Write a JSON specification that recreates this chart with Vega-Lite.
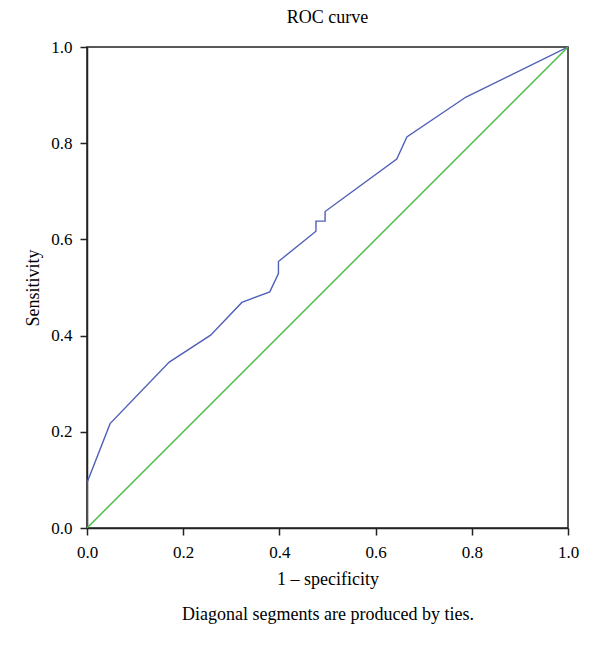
{
  "$schema": "https://vega.github.io/schema/vega-lite/v6.json",
  "width": 481,
  "height": 481,
  "autosize": "none",
  "padding": {"left": 87, "top": 47, "right": 32, "bottom": 121},
  "background": "white",
  "title": {"text": "ROC curve", "font": "Liberation Serif", "fontSize": 18, "fontWeight": "normal", "color": "#000000", "offset": 11},
  "config": {
    "view": {"stroke": "#222222", "strokeWidth": 1.5},
    "axis": {
      "labelFont": "Liberation Serif", "labelFontSize": 17, "labelColor": "#000000",
      "titleFont": "Liberation Serif", "titleFontSize": 18, "titleFontWeight": "normal", "titleColor": "#000000",
      "domainColor": "#222222", "domainWidth": 1.5, "tickColor": "#222222", "tickWidth": 1.5, "tickSize": 7,
      "grid": false, "labelFlush": false
    }
  },
  "data": {"values": [
    {"i": 0, "s": "roc", "fpr": 0.0, "tpr": 0.0},
    {"i": 1, "s": "roc", "fpr": 0.0, "tpr": 0.094},
    {"i": 2, "s": "roc", "fpr": 0.048, "tpr": 0.217},
    {"i": 3, "s": "roc", "fpr": 0.171, "tpr": 0.345},
    {"i": 4, "s": "roc", "fpr": 0.257, "tpr": 0.401},
    {"i": 5, "s": "roc", "fpr": 0.322, "tpr": 0.469},
    {"i": 6, "s": "roc", "fpr": 0.380, "tpr": 0.491},
    {"i": 7, "s": "roc", "fpr": 0.398, "tpr": 0.529},
    {"i": 8, "s": "roc", "fpr": 0.398, "tpr": 0.554},
    {"i": 9, "s": "roc", "fpr": 0.476, "tpr": 0.617},
    {"i": 10, "s": "roc", "fpr": 0.476, "tpr": 0.638},
    {"i": 11, "s": "roc", "fpr": 0.495, "tpr": 0.638},
    {"i": 12, "s": "roc", "fpr": 0.495, "tpr": 0.658},
    {"i": 13, "s": "roc", "fpr": 0.644, "tpr": 0.767},
    {"i": 14, "s": "roc", "fpr": 0.665, "tpr": 0.813},
    {"i": 15, "s": "roc", "fpr": 0.788, "tpr": 0.896},
    {"i": 16, "s": "roc", "fpr": 1.0, "tpr": 1.0},
    {"i": 0, "s": "ref", "fpr": 0.0, "tpr": 0.0},
    {"i": 1, "s": "ref", "fpr": 1.0, "tpr": 1.0}
  ]},
  "mark": {"type": "line", "strokeWidth": 1.4, "clip": true},
  "encoding": {
    "x": {"field": "fpr", "type": "quantitative", "scale": {"domain": [0, 1], "nice": false},
      "axis": {"values": [0, 0.2, 0.4, 0.6, 0.8, 1.0], "format": ".1f", "labelPadding": 9,
        "title": ["1 – specificity", "Diagonal segments are produced by ties."], "titleLineHeight": 35, "titlePadding": 10}},
    "y": {"field": "tpr", "type": "quantitative", "scale": {"domain": [0, 1], "nice": false},
      "axis": {"values": [0, 0.2, 0.4, 0.6, 0.8, 1.0], "format": ".1f", "labelPadding": 8, "title": "Sensitivity", "titlePadding": 8}},
    "color": {"field": "s", "type": "nominal", "scale": {"domain": ["roc", "ref"], "range": ["#5060b8", "#44bb44"]}, "legend": null},
    "order": {"field": "i", "type": "quantitative"}
  }
}
